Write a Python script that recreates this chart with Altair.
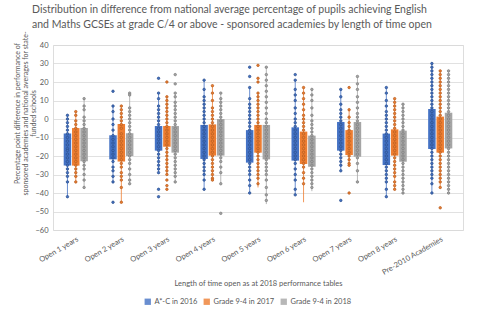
import altair as alt
import pandas as pd

categories = ["Open 1 years", "Open 2 years", "Open 3 years", "Open 4 years", "Open 5 years",
              "Open 6 years", "Open 7 years", "Open 8 years", "Pre-2010 Academies"]
series = ["A*-C in 2016", "Grade 9-4 in 2017", "Grade 9-4 in 2018"]
colors = ["#4472C4", "#ED7D31", "#A5A5A5"]
dot_edges = ["#2F528F", "#B85F22", "#7F7F7F"]

# Quartiles and whisker ends per length of time open
q1_2016 = [-25.2, -21.8, -17.1, -21.6, -23.6, -22.5, -17.1, -24.9, -16.2]
q3_2016 = [-7.9, -8.8, -3.8, -3.2, -6.0, -4.5, -1.6, -7.9, 5.4]
lo_2016 = [-42, -34, -29, -38, -40, -41, -28, -42, -40]
hi_2016 = [2, 7, 14, 21, 17, 21, 16, 17, 30]

q1_2017 = [-25.2, -23.0, -15.0, -19.8, -18.2, -24.3, -19.5, -19.8, -18.2]
q3_2017 = [-4.9, -2.7, -3.8, -2.9, -3.2, -6.8, -6.0, -5.6, 1.3]
lo_2017 = [-34, -45, -30, -33, -37, -45, -25, -38, -37]
hi_2017 = [4, 7, 12, 18, 14, 17, 5, 11, 26]

q1_2018 = [-22.9, -20.0, -18.2, -19.8, -21.8, -25.8, -20.4, -23.1, -15.9]
q3_2018 = [-4.9, -7.7, -3.8, 0.0, -3.2, -9.0, -1.6, -6.3, 3.4]
lo_2018 = [-37, -35, -34, -35, -46, -39, -34, -40, -40]
hi_2018 = [11, 14, 14, 14, 28, 16, 23, 8, 26]

# Individual academy results, one list per length of time open
points_2016 = [
    [2, 0, -2, -4, -6, -8, -10, -12, -14, -16, -17, -19, -21, -23, -25, -27, -29, -31, -34, -42],
    [15, 7, 4, 0, -3, -6, -9, -11, -13, -15, -17, -19, -21, -23, -26, -28, -31, -34, -45],
    [22, 14, 11, 7, 5, 3, 1, -1, -3, -5, -7, -9, -11, -13, -15, -17, -19, -21, -23, -25, -27, -29, -38, -42],
    [21, 16, 12, 10, 8, 6, 4, 2, 0, -2, -4, -6, -8, -10, -12, -14, -16, -18, -20, -22, -24, -26, -28, -30, -33, -38],
    [28, 23, 17, 11, 8, 6, 4, 2, 0, -2, -4, -6, -8, -10, -12, -14, -16, -18, -20, -22, -24, -26, -28, -30, -33, -36, -40],
    [24, 21, 16, 13, 10, 6, 3, 0, -2, -4, -6, -8, -10, -12, -14, -16, -18, -20, -22, -24, -27, -30, -33, -38, -41],
    [16, 12, 8, 5, 3, 1, -1, -3, -5, -7, -9, -11, -13, -15, -17, -19, -21, -23, -25, -28, -44],
    [17, 14, 10, 7, 4, 2, 0, -2, -4, -6, -8, -10, -12, -14, -16, -18, -20, -22, -24, -26, -28, -30, -32, -34, -38, -42],
    [30, 28, 26, 24, 22, 20, 18, 16, 14, 12, 10, 8, 6, 4, 2, 0, -2, -4, -6, -8, -10, -12, -14, -16,
     -18, -20, -22, -24, -26, -28, -30, -32, -35, -40],
]
points_2017 = [
    [4, 2, -1, -3, -5, -7, -9, -11, -13, -15, -17, -19, -21, -23, -25, -27, -29, -31, -34],
    [7, 5, 3, 1, -1, -3, -5, -8, -10, -12, -14, -16, -18, -20, -22, -24, -26, -29, -31, -33, -37, -45],
    [20, 12, 10, 8, 6, 4, 2, 0, -2, -4, -6, -8, -10, -12, -14, -16, -18, -20, -22, -24, -26, -28, -30, -33, -36, -38],
    [18, 14, 10, 6, 4, 2, 0, -2, -4, -6, -8, -10, -12, -14, -16, -18, -20, -22, -24, -26, -28, -30, -32, -33],
    [29, 22, 20, 14, 12, 10, 8, 6, 4, 2, 0, -2, -4, -6, -8, -10, -12, -14, -16, -18, -20, -22, -24, -26,
     -28, -30, -32, -35],
    [17, 14, 11, 8, 5, 2, 0, -2, -4, -6, -8, -10, -12, -14, -16, -18, -20, -22, -24, -26, -29, -32, -35],
    [17, 5, 1, -2, -4, -6, -8, -10, -12, -14, -16, -18, -20, -22, -24, -25, -40],
    [11, 9, 7, 5, 3, 1, -1, -3, -5, -7, -9, -11, -13, -15, -17, -19, -21, -23, -25, -27, -29, -31, -34, -36, -38],
    [26, 24, 22, 20, 18, 16, 14, 12, 10, 8, 6, 4, 2, 0, -2, -4, -6, -8, -10, -12, -14, -16, -18, -20,
     -22, -24, -26, -28, -30, -32, -34, -37, -48],
]
points_2018 = [
    [11, 7, 5, 1, -1, -3, -5, -7, -9, -11, -13, -15, -17, -19, -21, -23, -25, -27, -30, -33, -37],
    [14, 13, 6, 4, 2, 0, -2, -4, -6, -8, -10, -12, -14, -16, -18, -20, -22, -24, -27, -30, -33, -35],
    [24, 19, 14, 12, 9, 7, 5, 3, 1, -1, -3, -5, -7, -9, -11, -13, -15, -17, -19, -21, -23, -25, -27, -29, -31, -34],
    [14, 11, 9, 7, 5, 3, 1, -1, -3, -5, -7, -9, -11, -13, -15, -17, -19, -21, -23, -26, -29, -35, -51],
    [28, 24, 21, 18, 15, 12, 9, 6, 3, 0, -2, -4, -6, -8, -10, -12, -14, -16, -18, -20, -22, -24, -26,
     -28, -30, -33, -37, -41, -44],
    [16, 13, 10, 6, 2, -1, -3, -5, -7, -9, -11, -13, -15, -17, -19, -21, -23, -25, -27, -29, -31, -33, -35, -37],
    [23, 19, 16, 12, 9, 6, 3, 1, -1, -3, -5, -7, -9, -11, -13, -15, -17, -19, -21, -24, -28, -34],
    [8, 6, 4, 2, 0, -2, -4, -6, -8, -10, -12, -14, -16, -18, -20, -22, -24, -26, -28, -30, -32, -34, -36, -38, -40],
    [26, 24, 22, 20, 18, 16, 14, 12, 10, 8, 6, 4, 2, 0, -2, -4, -6, -8, -10, -12, -14, -16, -18, -20,
     -22, -24, -26, -28, -30, -32, -34, -36, -38, -40],
]

title_lines = [
    "Distribution in difference from national average percentage of pupils achieving English",
    "and Maths GCSEs at grade C/4 or above - sponsored academies by length of time open",
]
y_title = [
    "Percentage point difference in performance of",
    "sponsored academies and national averages for state-",
    "funded schools",
]
x_title = "Length of time open as at 2018 performance tables"

FONT = "Lato"
TEXT = "#595959"

summary_rows = []
for s, q1s, q3s, los, his in zip(series,
                                 [q1_2016, q1_2017, q1_2018],
                                 [q3_2016, q3_2017, q3_2018],
                                 [lo_2016, lo_2017, lo_2018],
                                 [hi_2016, hi_2017, hi_2018]):
    for c, a, b, lo, hi in zip(categories, q1s, q3s, los, his):
        summary_rows.append({"category": c, "series": s, "q1": a, "q3": b, "lo": lo, "hi": hi})
summary = pd.DataFrame(summary_rows)

point_rows = []
for s, groups in zip(series, [points_2016, points_2017, points_2018]):
    for c, vals in zip(categories, groups):
        for v in vals:
            point_rows.append({"category": c, "series": s, "value": v})
points = pd.DataFrame(point_rows)

x_enc = alt.X(
    "category:N", sort=categories,
    scale=alt.Scale(paddingInner=0.47, paddingOuter=0.235),
    axis=alt.Axis(title=x_title, labelAngle=-30, labelFontSize=7.5, labelFont=FONT,
                  labelColor=TEXT, labelPadding=5, ticks=False, domain=False, grid=False,
                  titleFont=FONT, titleFontSize=7.5, titleColor=TEXT, titleFontWeight="normal",
                  titleY=49),
)
xo_enc = alt.XOffset("series:N", sort=series, scale=alt.Scale(paddingInner=0.1, paddingOuter=0))
y_scale = alt.Scale(domain=[-60, 40], nice=False)
y_axis = alt.Axis(title=y_title, values=list(range(-60, 41, 10)), labelFontSize=7.5, labelFont=FONT,
                  labelColor=TEXT, labelPadding=5, ticks=False, domain=False, grid=True,
                  gridColor="#D9D9D9", gridWidth=0.8,
                  titleFont=FONT, titleFontSize=7, titleColor=TEXT, titleFontWeight="normal",
                  titleLineHeight=8.3, titleX=-36, titleY=68, titleAngle=-90,
                  titleAlign="center", titleBaseline="middle")
series_legend = alt.Legend(title=None, orient="none", legendX=91, legendY=253,
                           direction="horizontal", symbolType="square", symbolSize=40,
                           symbolStrokeWidth=0, labelFont=FONT, labelFontSize=7.5,
                           labelColor=TEXT, columnPadding=5, labelOffset=3, gridAlign="none")
color_enc = alt.Color("series:N", sort=series, scale=alt.Scale(domain=series, range=colors),
                      legend=series_legend)

whiskers = alt.Chart(summary).mark_rule(strokeWidth=1, opacity=0.8).encode(
    x=x_enc, xOffset=xo_enc,
    y=alt.Y("lo:Q", scale=y_scale, axis=y_axis), y2="hi:Q",
    color=color_enc,
)

boxes = alt.Chart(summary).mark_bar().encode(
    x=x_enc, xOffset=xo_enc,
    y=alt.Y("q1:Q", scale=y_scale, axis=y_axis), y2="q3:Q",
    color=color_enc,
)

dots = alt.Chart(points).mark_point(filled=True, size=6, strokeWidth=0.8, opacity=1).encode(
    x=x_enc, xOffset=xo_enc,
    y=alt.Y("value:Q", scale=y_scale, axis=y_axis),
    color=color_enc,
    stroke=alt.Stroke("series:N", sort=series, scale=alt.Scale(domain=series, range=dot_edges), legend=None),
)

chart = alt.layer(whiskers, boxes, dots).properties(
    width=410, height=185,
    autosize=alt.AutoSizeParams(type="none"),
    padding={"left": 53, "top": 45, "right": 24, "bottom": 90},
    title=alt.TitleParams(text=title_lines, anchor="start", frame="group", dx=-21, dy=4, offset=4,
                          font=FONT, fontSize=10.5, fontWeight="normal", color=TEXT, lineHeight=15),
).configure_view(stroke=None).configure(background="white")

chart.save("out.html", embed_options={"renderer": "svg", "actions": False})
